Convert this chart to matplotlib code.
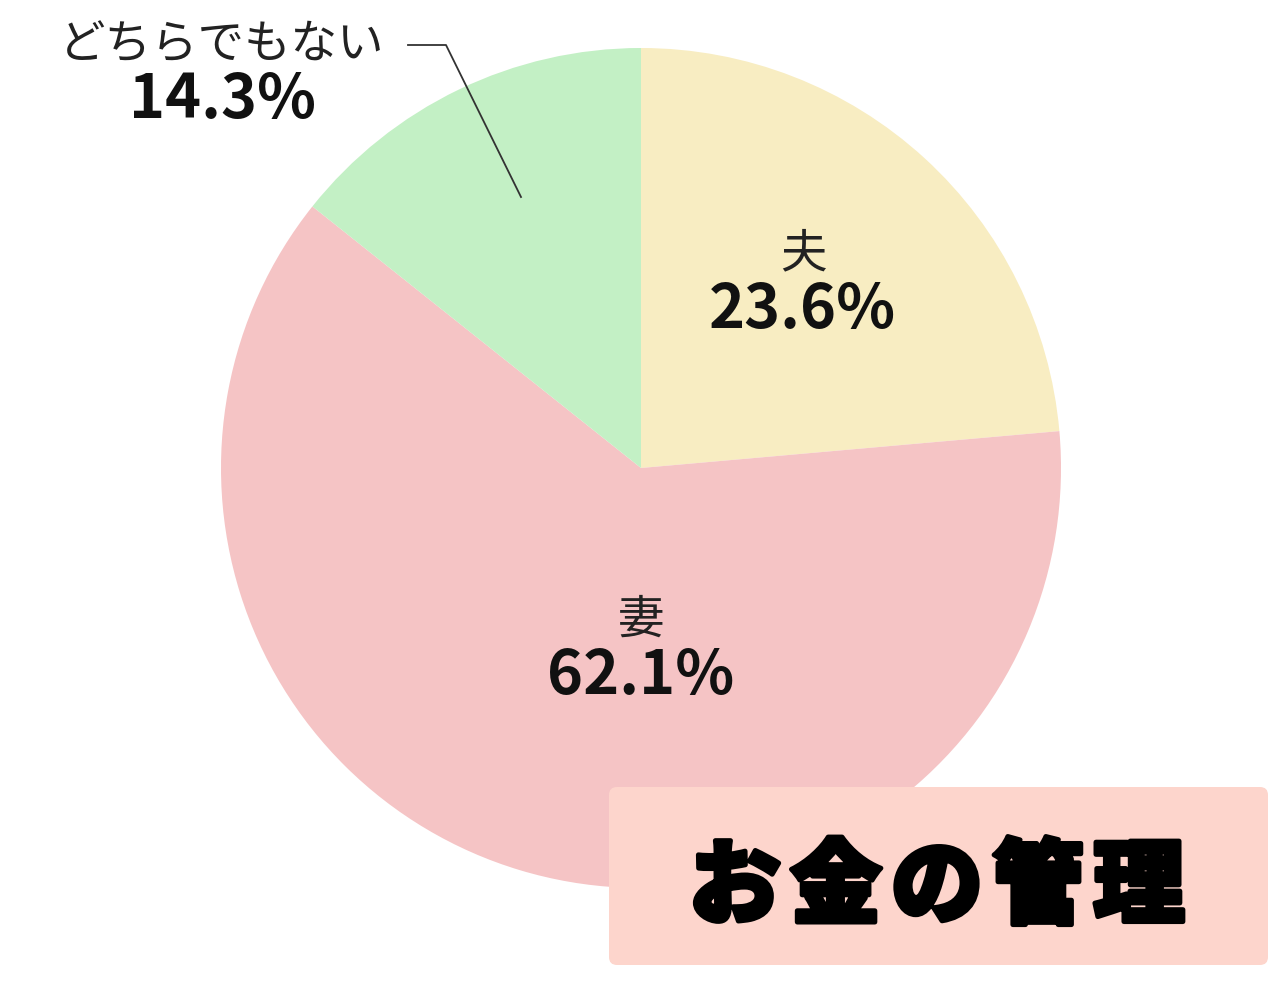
import matplotlib

matplotlib.use("Agg")
import matplotlib.pyplot as plt
import matplotlib.patheffects as pe
from matplotlib.patches import FancyBboxPatch

plt.rcParams["font.family"] = ["Noto Sans CJK JP", "DejaVu Sans"]

# お金の管理：夫 / 妻 / どちらでもない
labels = ["夫", "妻", "どちらでもない"]
shares = [23.6, 62.1, 14.3]
colors = ["#F8EDC2", "#F5C4C5", "#C3F0C5"]
title = "お金の管理"

W, H = 1280, 996
fig = plt.figure(figsize=(W / 100, H / 100), dpi=100)
ax = fig.add_axes([0, 0, 1, 1])

cx, cy, r = 641, H - 468, 420
ax.pie(shares, colors=colors, startangle=90, counterclock=False,
       center=(cx, cy), radius=r, frame=True,
       wedgeprops={"linewidth": 0, "edgecolor": "none"})
ax.set_xlim(0, W)
ax.set_ylim(0, H)
ax.set_aspect("equal")
ax.axis("off")

lab_fs, pct_fs = 33.5, 44

# ラベル（スライス内）
ax.text(803, H - 254, labels[0], ha="center", va="center", fontsize=lab_fs, color="#222")
ax.text(802, H - 310, f"{shares[0]}%", ha="center", va="center", fontsize=pct_fs,
        fontweight="bold", color="#111")
ax.text(641, H - 620, labels[1], ha="center", va="center", fontsize=lab_fs, color="#222")
ax.text(641, H - 676, f"{shares[1]}%", ha="center", va="center", fontsize=pct_fs,
        fontweight="bold", color="#111")

# 外側ラベル + 引き出し線
ax.text(222, H - 45, labels[2], ha="center", va="center", fontsize=lab_fs, color="#222")
ax.text(222, H - 100, f"{shares[2]}%", ha="center", va="center", fontsize=pct_fs,
        fontweight="bold", color="#111")
ax.plot([408, 446, 521], [H - 45, H - 45, H - 197], color="#333", linewidth=1.3)

# タイトル box
box = FancyBboxPatch((609, H - 965), 659, 178, boxstyle="round,pad=0,rounding_size=8",
                     facecolor="#FDD5CC", edgecolor="none", zorder=5)
ax.add_patch(box)
pitch = 101
x0 = 937 - pitch * (len(title) - 1) / 2
for i, ch in enumerate(title):
    ax.text(x0 + i * pitch, H - 888, ch, ha="center", va="center", fontsize=66,
            fontweight="heavy", color="black", zorder=6,
            path_effects=[pe.withStroke(linewidth=3.5, foreground="black")])

fig.savefig("out.png", dpi=100, facecolor="white")
